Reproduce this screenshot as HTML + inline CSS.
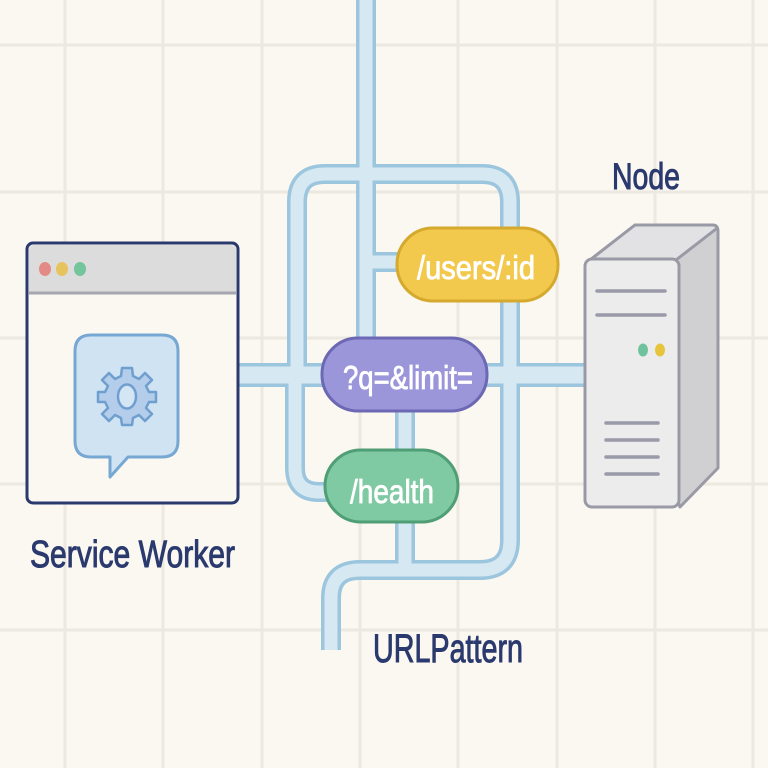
<!DOCTYPE html>
<html><head><meta charset="utf-8"><style>
html,body{margin:0;padding:0;background:#fbf8f1;}
svg{display:block;}
text{font-family:"Liberation Sans",sans-serif;}
</style></head><body>
<svg width="768" height="768" viewBox="0 0 768 768" xmlns="http://www.w3.org/2000/svg">
<rect width="768" height="768" fill="#fbf8f1"/>
<g stroke="#ece9e1" stroke-width="3">
<line x1="65" y1="0" x2="65" y2="768"/><line x1="163" y1="0" x2="163" y2="768"/><line x1="262" y1="0" x2="262" y2="768"/><line x1="360" y1="0" x2="360" y2="768"/><line x1="458" y1="0" x2="458" y2="768"/><line x1="557" y1="0" x2="557" y2="768"/><line x1="655" y1="0" x2="655" y2="768"/><line x1="753" y1="0" x2="753" y2="768"/>
<line x1="0" y1="45" x2="768" y2="45"/><line x1="0" y1="192" x2="768" y2="192"/><line x1="0" y1="338" x2="768" y2="338"/><line x1="0" y1="484" x2="768" y2="484"/><line x1="0" y1="630" x2="768" y2="630"/>
</g>
<!-- pipes -->
<g fill="none" stroke-linejoin="round">
<g stroke="#9cc6de" stroke-width="20">
<path d="M366,0 V345"/>
<path d="M297,375 V202 Q297,174 325,174 H482 Q510,174 510,202 V540 Q510,570 480,570 H360 Q331,570 331,598 V650"/>
<path d="M295,375 V468 Q295,492 319,492 H335"/>
<path d="M366,262 H405"/>
<path d="M405,405 V570"/>
</g>
<path d="M238,375 H586" stroke="#9cc6de" stroke-width="24"/>
<g stroke="#d6e8f2" stroke-width="13">
<path d="M366,0 V345"/>
<path d="M297,375 V202 Q297,174 325,174 H482 Q510,174 510,202 V540 Q510,570 480,570 H360 Q331,570 331,598 V650"/>
<path d="M295,375 V468 Q295,492 319,492 H335"/>
<path d="M366,262 H405"/>
<path d="M405,405 V570"/>
</g>
<path d="M238,375 H586" stroke="#d6e8f2" stroke-width="17"/>
</g>
<!-- pills -->
<rect x="397" y="228" width="161" height="73" rx="36" fill="#f2c94c" stroke="#d5a92e" stroke-width="3"/>
<text x="417" y="279" font-size="33" fill="#fff" stroke="#fff" stroke-width="0.8" textLength="118" lengthAdjust="spacingAndGlyphs">/users/:id</text>
<rect x="322" y="338" width="165" height="73" rx="36" fill="#9b96da" stroke="#6c68b4" stroke-width="3"/>
<text x="343" y="389" font-size="33" fill="#fff" stroke="#fff" stroke-width="0.8" textLength="130" lengthAdjust="spacingAndGlyphs">?q=&amp;limit=</text>
<rect x="325" y="450" width="133" height="72" rx="36" fill="#7fcaa3" stroke="#4f9e76" stroke-width="3"/>
<text x="350" y="503" font-size="33" fill="#fff" stroke="#fff" stroke-width="0.8" textLength="84" lengthAdjust="spacingAndGlyphs">/health</text>
<!-- browser -->
<rect x="27" y="243" width="211" height="260" rx="6" fill="#fbf8f1" stroke="#2b3a6e" stroke-width="3"/>
<path d="M29,293 V250 Q29,245 34,245 H231 Q236,245 236,250 V293 Z" fill="#dcdcdc"/>
<line x1="29" y1="293" x2="236" y2="293" stroke="#a6a6b0" stroke-width="3"/>
<ellipse cx="45" cy="269" rx="6" ry="7" fill="#e48a86"/>
<ellipse cx="62" cy="269" rx="6" ry="7" fill="#e6c35c"/>
<ellipse cx="80" cy="269" rx="6" ry="7" fill="#74c49c"/>
<path d="M93,335 H162 Q178,335 178,351 V441 Q178,457 162,457 H128 L110,477 V457 H91 Q75,457 75,441 V351 Q75,335 91,335 Z" fill="#cfe3f2" stroke="#77a7d3" stroke-width="3" stroke-linejoin="round"/>
<g transform="translate(127,396)" fill="#b3cdea" stroke="#6f9fcf" stroke-width="2.5" stroke-linejoin="round">
<path d="M-5,-28 H5 L6,-20 L12,-17 L18,-23 L25,-16 L19,-10 L22,-4 L29,-4 V6 L22,6 L19,12 L25,18 L18,25 L12,19 L6,22 L5,29 H-5 L-6,22 L-12,19 L-18,25 L-25,18 L-19,12 L-22,6 L-29,6 V-4 L-22,-4 L-19,-10 L-25,-16 L-18,-23 L-12,-17 L-6,-20 Z"/>
<ellipse cx="0" cy="0.5" rx="9" ry="12" fill="#d4e5f4"/>
</g>
<!-- server -->
<path d="M590,260 L635,225 H712 Q718,225 718,231 V468 L680,507 Z" fill="#d0d0d3" stroke="#9a9aa6" stroke-width="3" stroke-linejoin="round"/>
<path d="M590,260 L635,225 H712 Q718,225 716,229 L676,260 Z" fill="#e2e2e4" stroke="#9a9aa6" stroke-width="3" stroke-linejoin="round"/>
<rect x="585" y="259" width="94" height="248" rx="7" fill="#ececec" stroke="#9a9aa6" stroke-width="3"/>
<g stroke="#9a9aa8" stroke-width="3.5" stroke-linecap="round">
<line x1="597" y1="291" x2="665" y2="291"/><line x1="597" y1="315" x2="665" y2="315"/>
<line x1="606" y1="423" x2="658" y2="423"/><line x1="606" y1="440" x2="658" y2="440"/><line x1="606" y1="457" x2="658" y2="457"/><line x1="606" y1="474" x2="658" y2="474"/>
</g>
<ellipse cx="643" cy="350" rx="5" ry="6.5" fill="#6fc39c"/>
<ellipse cx="660" cy="350" rx="5" ry="6.5" fill="#e8c33c"/>
<!-- labels -->
<g fill="#2b3a6e" stroke="#2b3a6e" stroke-width="1">
<text x="30" y="567" font-size="38" textLength="205" lengthAdjust="spacingAndGlyphs">Service Worker</text>
<text x="612" y="189" font-size="37" textLength="68" lengthAdjust="spacingAndGlyphs">Node</text>
<text x="373" y="662" font-size="40" textLength="150" lengthAdjust="spacingAndGlyphs">URLPattern</text>
</g>
</svg>
</body></html>
